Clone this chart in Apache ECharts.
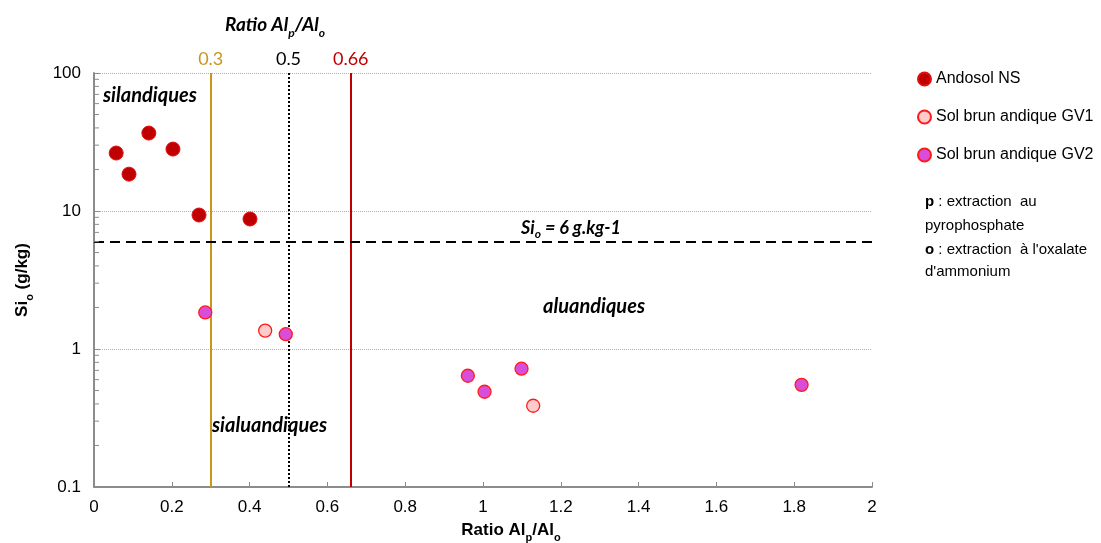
<!DOCTYPE html>
<html><head><meta charset="utf-8">
<script src="https://cdn.jsdelivr.net/npm/echarts@6/dist/echarts.min.js"></script>
<style>html,body{margin:0;padding:0;background:#fff}#c{width:1101px;height:543px}</style>
</head><body><div id="c"></div>
<script>
const andosolX = [0.057, 0.090, 0.141, 0.203, 0.270, 0.401];
const andosolY = [26.3, 18.5, 36.7, 28.1, 9.35, 8.75];
const gv1X = [0.440, 1.129];
const gv1Y = [1.36, 0.388];
const gv2X = [0.286, 0.493, 0.961, 1.004, 1.099, 1.819];
const gv2Y = [1.84, 1.28, 0.64, 0.49, 0.72, 0.55];
const seriesNames = ['Andosol NS', 'Sol brun andique GV1', 'Sol brun andique GV2'];
const ratioLines = [0.3, 0.5, 0.66];
const siLine = 6;
const minorTickValues = [0.2,0.3,0.4,0.5,0.6,0.7,0.8,0.9,2,3,4,5,6,7,8,9,20,30,40,50,60,70,80,90];

const zip = (xs, ys) => xs.map((x, i) => [x, ys[i]]);
const NARROW = '"Liberation Sans Narrow", "Arial Narrow", "Liberation Sans", Arial, sans-serif';
const CAL = 'Lato, "Open Sans", sans-serif';

const chart = echarts.init(document.getElementById('c'));
const lineColors = ['#C9961A', '#000000', '#C00000'];
const lineTypes = ['solid', 'dotted', 'solid'];

function subRich(family, size, subSize, bold, italic, lh, subLh) {
  const base = { fontFamily: family, fontSize: size, fontWeight: bold ? 'bold' : 'normal',
    fontStyle: italic ? 'italic' : 'normal', fill: '#000', lineHeight: lh };
  return { b: base, s: Object.assign({}, base, { fontSize: subSize, lineHeight: subLh, verticalAlign: 'bottom' }) };
}

const option = {
  animation: false,
  grid: { left: 94, right: 229, top: 73, bottom: 56 },
  xAxis: {
    type: 'value', min: 0, max: 2, interval: 0.2,
    axisLine: { lineStyle: { color: '#8c8c8c', width: 2 } },
    axisTick: { inside: true, length: 5, lineStyle: { color: '#8c8c8c', width: 1 } },
    axisLabel: { color: '#000', fontFamily: NARROW, fontSize: 17, margin: 12 },
    splitLine: { show: false }
  },
  yAxis: {
    type: 'log', logBase: 10, min: 0.1, max: 100,
    axisLine: { show: true, lineStyle: { color: '#8c8c8c', width: 2 } },
    axisTick: { show: true, inside: true, length: 6, lineStyle: { color: '#8c8c8c', width: 1 } },
    axisLabel: { color: '#000', fontFamily: NARROW, fontSize: 17, margin: 13,
      formatter: v => String(+v.toPrecision(3)) },
    splitLine: { show: true, lineStyle: { color: '#b0b0b0', type: 'dotted', width: 1 } },
    minorTick: { show: false }
  },
  legend: {
    orient: 'vertical', left: 912, top: 66, itemGap: 22,
    itemWidth: 13, itemHeight: 13, icon: 'circle',
    data: seriesNames,
    textStyle: { fontFamily: NARROW, fontSize: 16, color: '#000' }
  },
  series: [
    {
      type: 'custom', name: 'minor', silent: true, z: 3,
      data: minorTickValues.map(v => [0, v]),
      renderItem: (params, api) => {
        const p = api.coord([0, api.value(1)]);
        return { type: 'line', shape: { x1: p[0], y1: p[1], x2: p[0] + 5, y2: p[1] },
          style: { stroke: '#8c8c8c', lineWidth: 1 } };
      }
    },
    {
      type: 'scatter', name: seriesNames[0], data: zip(andosolX, andosolY), symbolSize: 14, z: 5,
      itemStyle: { color: '#C00000', borderColor: '#E01010', borderWidth: 1, opacity: 1 },
      markLine: {
        silent: true, symbol: 'none', z: 2,
        data: ratioLines.map((v, i) => ({
          xAxis: v,
          lineStyle: { color: lineColors[i], type: lineTypes[i], width: 2 },
          label: { show: true, position: 'end', formatter: String(v), color: lineColors[i],
            fontFamily: CAL, fontSize: 18, distance: 5 }
        })).concat([{
          yAxis: siLine,
          lineStyle: { color: '#000', type: [10, 6], width: 2 },
          label: { show: false }
        }])
      }
    },
    {
      type: 'scatter', name: seriesNames[1], data: zip(gv1X, gv1Y), symbolSize: 13, z: 5,
      itemStyle: { color: '#FFCACA', borderColor: '#FF1A1A', borderWidth: 1.3, opacity: 1 }
    },
    {
      type: 'scatter', name: seriesNames[2], data: zip(gv2X, gv2Y), symbolSize: 13, z: 5,
      itemStyle: { color: '#D84ED8', borderColor: '#FF1A1A', borderWidth: 1.3, opacity: 1 }
    }
  ],
  graphic: [
    { type: 'text', x: 275, y: 25, style: {
      text: '{b|Ratio Al}{s|p}{b|/Al}{s|o}', align: 'center', verticalAlign: 'middle',
      rich: subRich(CAL, 19, 12, true, true, 22, 28) } },
    { type: 'text', x: 511, y: 530, style: {
      text: '{b|Ratio Al}{s|p}{b|/Al}{s|o}', align: 'center', verticalAlign: 'middle',
      rich: subRich(NARROW, 17, 11, true, false, 20, 26) } },
    { type: 'text', x: 22, y: 280, rotation: Math.PI / 2, style: {
      text: '{b|Si}{s|o}{b| (g/kg)}', align: 'center', verticalAlign: 'middle',
      rich: subRich(NARROW, 17, 11, true, false, 20, 26) } },
    { type: 'text', x: 571, y: 228, style: {
      text: '{b|Si}{s|o}{b| = 6 g.kg-1}', align: 'center', verticalAlign: 'middle',
      rich: subRich(CAL, 18, 12, true, true, 20, 25) } },
    { type: 'text', x: 103, y: 96, style: { text: 'silandiques', verticalAlign: 'middle',
      font: 'italic bold 20px ' + CAL, fill: '#000' } },
    { type: 'text', x: 212, y: 426, style: { text: 'sialuandiques', verticalAlign: 'middle',
      font: 'italic bold 20px ' + CAL, fill: '#000' } },
    { type: 'text', x: 543, y: 307, style: { text: 'aluandiques', verticalAlign: 'middle',
      font: 'italic bold 20px ' + CAL, fill: '#000' } },
    { type: 'text', x: 925, y: 202, style: { text: '{b|p} : extraction  au', verticalAlign: 'middle',
      font: '15px ' + NARROW, fill: '#000', rich: { b: { font: 'bold 15px ' + NARROW, fill: '#000' } } } },
    { type: 'text', x: 925, y: 226, style: { text: 'pyrophosphate', verticalAlign: 'middle',
      font: '15px ' + NARROW, fill: '#000' } },
    { type: 'text', x: 925, y: 250, style: { text: '{b|o} : extraction  à l\'oxalate', verticalAlign: 'middle',
      font: '15px ' + NARROW, fill: '#000', rich: { b: { font: 'bold 15px ' + NARROW, fill: '#000' } } } },
    { type: 'text', x: 925, y: 272, style: { text: 'd\'ammonium', verticalAlign: 'middle',
      font: '15px ' + NARROW, fill: '#000' } }
  ]
};
chart.setOption(option);
</script></body></html>
